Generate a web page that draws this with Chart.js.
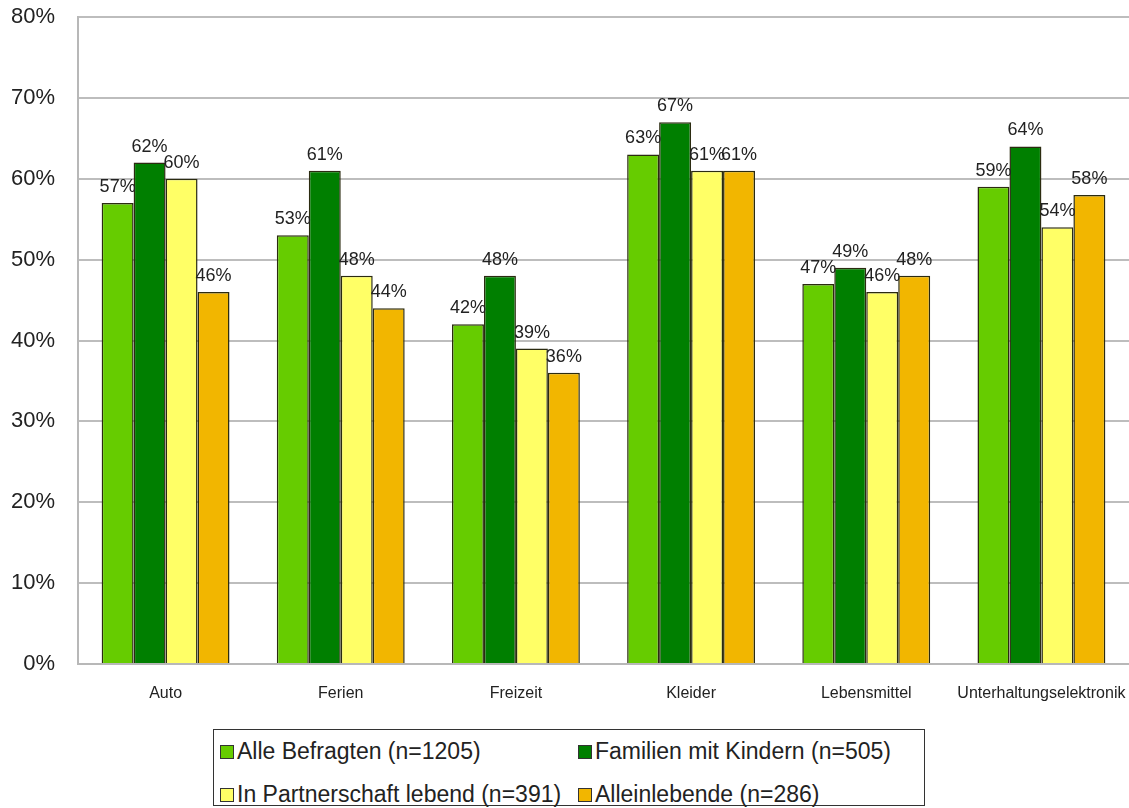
<!DOCTYPE html>
<html>
<head>
<meta charset="utf-8">
<script src="https://cdn.jsdelivr.net/npm/chart.js@4"></script>
<style>
  body { margin: 0; background: #fff; font-family: "Liberation Sans", Arial, sans-serif; }
  #wrap { position: relative; width: 1129px; height: 808px; overflow: hidden; }
  #box { position: absolute; left: 0; top: 0; width: 1129px; height: 720px; }
  #legend {
    position: absolute; left: 213px; top: 729px; width: 712px; height: 77px;
    border: 1.5px solid #333; box-sizing: border-box;
    display: grid; grid-template-columns: 358px auto; grid-auto-rows: 43px; padding-left: 6px;
    font-size: 23px; color: #222;
  }
  #legend .item { display: flex; align-items: center; height: 43px; white-space: nowrap; }
  #legend .sw { width: 12px; height: 12px; border: 1px solid #333; margin-right: 3px; flex: none; }
</style>
</head>
<body>
<div id="wrap">
  <div id="box"><canvas id="chart"></canvas></div>
  <div id="legend"></div>
</div>
<script>
const categories = ["Auto", "Ferien", "Freizeit", "Kleider", "Lebensmittel", "Unterhaltungselektronik"];
const seriesNames = [
  "Alle Befragten (n=1205)",
  "Familien mit Kindern (n=505)",
  "In Partnerschaft lebend (n=391)",
  "Alleinlebende (n=286)"
];
const alleBefragten = [57, 53, 42, 63, 47, 59];
const familien      = [62, 61, 48, 67, 49, 64];
const partnerschaft = [60, 48, 39, 61, 46, 54];
const alleinlebende = [46, 44, 36, 61, 48, 58];
const yTicks = [0, 10, 20, 30, 40, 50, 60, 70, 80];

const colors = ["#66cc00", "#007f00", "#ffff66", "#f2b600"];
const FONT = '"Liberation Sans", Arial, sans-serif';

const seriesValues = [alleBefragten, familien, partnerschaft, alleinlebende];

// value labels on top of the bars
const barLabels = {
  id: "barLabels",
  afterDatasetsDraw(chart) {
    const ctx = chart.ctx;
    ctx.save();
    ctx.font = "18px " + FONT;
    ctx.fillStyle = "#222";
    ctx.textAlign = "center";
    ctx.textBaseline = "bottom";
    chart.data.datasets.forEach((ds, i) => {
      chart.getDatasetMeta(i).data.forEach((bar, j) => {
        ctx.fillText(ds.data[j] + "%", bar.x, bar.y - 7);
      });
    });
    ctx.restore();
  }
};

const chart = new Chart(document.getElementById("chart"), {
  type: "bar",
  data: {
    labels: categories,
    datasets: seriesNames.map((name, i) => ({
      label: name,
      data: seriesValues[i],
      backgroundColor: colors[i],
      borderColor: "#2b2b10",
      borderWidth: 1.5,
      categoryPercentage: 0.73,
      barPercentage: 1
    }))
  },
  options: {
    responsive: true,
    maintainAspectRatio: false,
    animation: false,
    layout: { padding: { top: 17, right: 0, left: 0, bottom: 0 } },
    plugins: {
      legend: { display: false },
      tooltip: { enabled: false }
    },
    scales: {
      x: {
        grid: { display: false, drawTicks: false },
        border: { color: "#b8b8b8", width: 2 },
        ticks: { color: "#222", font: { size: 16, family: FONT }, padding: 20, maxRotation: 0, autoSkip: false },
        afterFit(scale) { scale.height = 56; scale.paddingLeft = 0; scale.paddingRight = 0; }
      },
      y: {
        min: 0,
        max: 80,
        afterBuildTicks(scale) { scale.ticks = yTicks.map(v => ({ value: v })); },
        grid: { color: "#bdbdbd", lineWidth: 2, drawTicks: false },
        border: { color: "#b8b8b8", width: 2 },
        ticks: { color: "#222", font: { size: 22, family: FONT }, padding: 23, callback: v => v + "%" },
        afterFit(scale) { scale.width = 78; scale.paddingTop = 0; scale.paddingBottom = 0; }
      }
    }
  },
  plugins: [barLabels]
});

// legend from the same series arrays
const legend = document.getElementById("legend");
seriesNames.forEach((name, i) => {
  const item = document.createElement("div");
  item.className = "item";
  item.innerHTML = `<span class="sw" style="background:${colors[i]}"></span><span>${name}</span>`;
  legend.appendChild(item);
});
</script>
</body>
</html>
